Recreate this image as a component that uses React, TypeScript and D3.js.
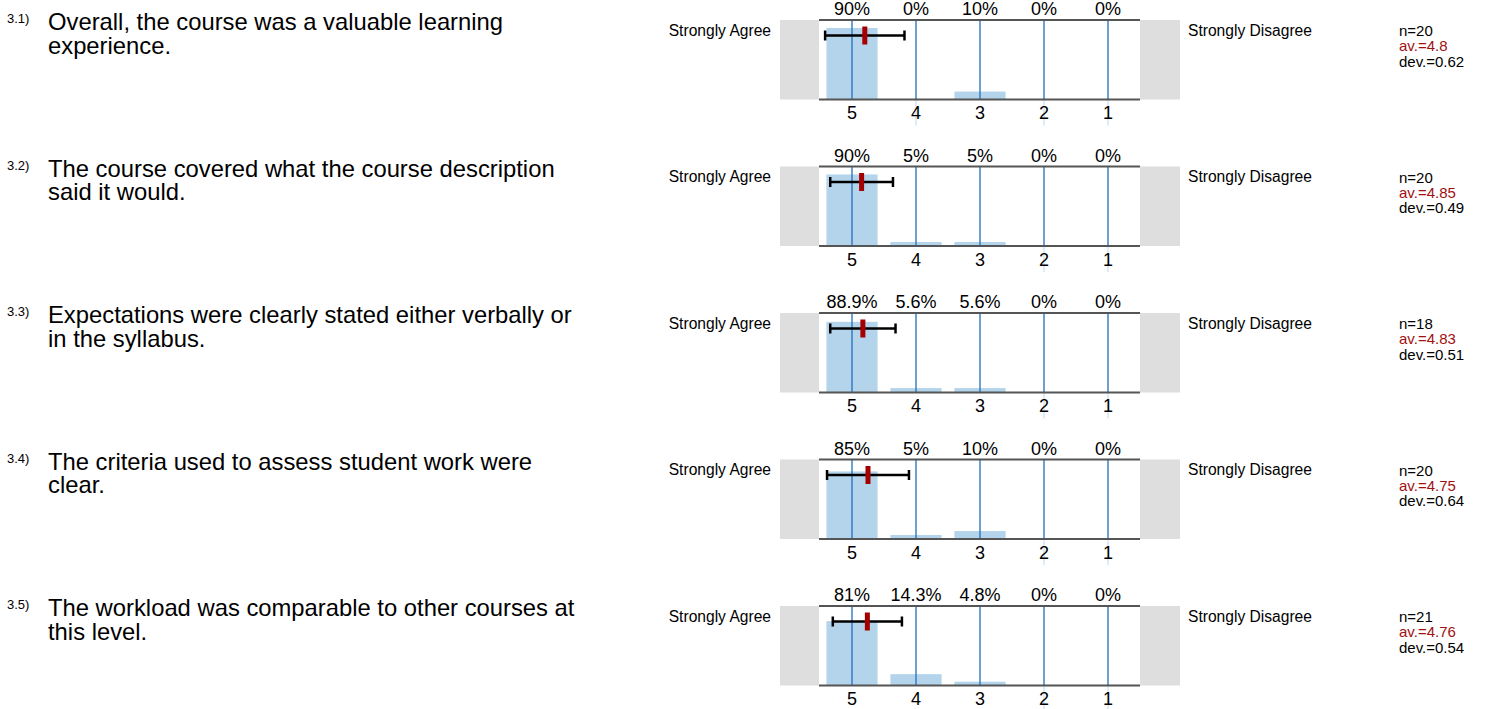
import { useRef, useEffect } from "react";
import * as d3 from "d3";

const questionIds = ["3.1)", "3.2)", "3.3)", "3.4)", "3.5)"];
const questionLines = [
    ["Overall, the course was a valuable learning", "experience."],
    ["The course covered what the course description", "said it would."],
    ["Expectations were clearly stated either verbally or", "in the syllabus."],
    ["The criteria used to assess student work were", "clear."],
    ["The workload was comparable to other courses at", "this level."],
];
const scaleValues = [5, 4, 3, 2, 1];
const percents = [
    [90, 0, 10, 0, 0],
    [90, 5, 5, 0, 0],
    [88.9, 5.6, 5.6, 0, 0],
    [85, 5, 10, 0, 0],
    [81, 14.3, 4.8, 0, 0],
];
const counts = [20, 20, 18, 20, 21];
const averages = [4.8, 4.85, 4.83, 4.75, 4.76];
const deviations = [0.62, 0.49, 0.51, 0.64, 0.54];
const leftLabel = "Strongly Agree";
const rightLabel = "Strongly Disagree";

const WIDTH = 1489;
const HEIGHT = 709;
const FONT = "'Liberation Sans', Arial, Helvetica, sans-serif";

export default function App() {
    const svgRef = useRef<SVGSVGElement | null>(null);

    useEffect(() => {
        if (!svgRef.current) return;
        const svg = d3.select(svgRef.current);
        svg.selectAll("*").remove();

        const firstTop = 20;
        const rowStep = 146.5;
        const plotH = 79.5;

        const x = d3
            .scaleBand<number>()
            .domain(scaleValues)
            .range([820, 1140])
            .paddingInner(0.2)
            .paddingOuter(0.1);
        const xMean = d3.scaleLinear().domain([5, 1]).range([852, 1108]);
        const y = d3.scaleLinear().domain([0, 100]).range([plotH, 0]);

        percents.forEach((row, i) => {
            const top = firstTop + i * rowStep;
            const g = svg.append("g").attr("transform", `translate(0,${top})`);

            // question number + wrapped text (one text element, two lines)
            g.append("text")
                .attr("x", 7)
                .attr("y", 3)
                .attr("font-size", 13)
                .text(questionIds[i]);
            const qt = g.append("text")
                .attr("x", 48)
                .attr("y", 10)
                .attr("font-size", 23.8);
            questionLines[i].forEach((line, j) => {
                qt.append("tspan")
                    .attr("x", 48)
                    .attr("dy", j === 0 ? 0 : 23.5)
                    .text(line);
            });

            // grey end boxes
            g.append("rect").attr("x", 780).attr("y", 0).attr("width", 39).attr("height", plotH).attr("fill", "#dedede");
            g.append("rect").attr("x", 1140).attr("y", 0).attr("width", 40).attr("height", plotH).attr("fill", "#dedede");

            // bars
            g.selectAll("rect.bar")
                .data(row)
                .enter()
                .append("rect")
                .attr("class", "bar")
                .attr("x", (_d, k) => x(scaleValues[k])!)
                .attr("y", d => y(d))
                .attr("width", x.bandwidth())
                .attr("height", d => plotH - y(d))
                .attr("fill", "#b4d4eb");

            // faint extensions under empty columns
            const empty = scaleValues.filter((_v, k) => row[k] === 0);
            g.selectAll("line.ext")
                .data(empty)
                .enter()
                .append("line")
                .attr("x1", d => xMean(d))
                .attr("x2", d => xMean(d))
                .attr("y1", plotH)
                .attr("y2", plotH + 26)
                .attr("stroke", "#d3e6f5")
                .attr("stroke-width", 1.5);

            // blue column lines
            g.selectAll("line.col")
                .data(scaleValues)
                .enter()
                .append("line")
                .attr("x1", d => xMean(d))
                .attr("x2", d => xMean(d))
                .attr("y1", 0)
                .attr("y2", plotH)
                .attr("stroke", "#1f6fb9")
                .attr("stroke-width", 1.3);

            // frame lines
            g.append("line").attr("x1", 819).attr("x2", 1140).attr("y1", 0).attr("y2", 0).attr("stroke", "#555").attr("stroke-width", 2);
            g.append("line").attr("x1", 819).attr("x2", 1140).attr("y1", plotH).attr("y2", plotH).attr("stroke", "#555").attr("stroke-width", 2);

            // percent labels
            g.selectAll("text.pct")
                .data(row)
                .enter()
                .append("text")
                .attr("x", (_d, k) => xMean(scaleValues[k]))
                .attr("y", -5)
                .attr("text-anchor", "middle")
                .attr("font-size", 18)
                .text(d => `${d}%`);

            // scale labels
            g.selectAll("text.tick")
                .data(scaleValues)
                .enter()
                .append("text")
                .attr("x", d => xMean(d))
                .attr("y", plotH + 19.5)
                .attr("text-anchor", "middle")
                .attr("font-size", 18)
                .text(d => d);

            // error bar
            const ey = 15.5;
            const lo = xMean(averages[i] + deviations[i]);
            const hi = xMean(averages[i] - deviations[i]);
            g.append("line").attr("x1", lo).attr("x2", hi).attr("y1", ey).attr("y2", ey).attr("stroke", "#000").attr("stroke-width", 2.5);
            [lo, hi].forEach(cx => {
                g.append("line").attr("x1", cx).attr("x2", cx).attr("y1", ey - 5).attr("y2", ey + 5).attr("stroke", "#000").attr("stroke-width", 2.5);
            });
            g.append("rect")
                .attr("x", xMean(averages[i]) - 2.5)
                .attr("y", ey - 9)
                .attr("width", 5)
                .attr("height", 18)
                .attr("fill", "#a50000");

            // side labels
            g.append("text").attr("x", 771).attr("y", 15.5).attr("text-anchor", "end").attr("font-size", 15.6).text(leftLabel);
            g.append("text").attr("x", 1188).attr("y", 15.5).attr("font-size", 15.6).text(rightLabel);

            // stats
            g.append("text").attr("x", 1399).attr("y", 16).attr("font-size", 15).text(`n=${counts[i]}`);
            g.append("text").attr("x", 1399).attr("y", 31.3).attr("font-size", 15).attr("fill", "#a01010").text(`av.=${averages[i]}`);
            g.append("text").attr("x", 1399).attr("y", 46.6).attr("font-size", 15).text(`dev.=${deviations[i]}`);
        });
    }, []);

    return (
        <svg
            ref={svgRef}
            width={WIDTH}
            height={HEIGHT}
            style={{ position: "absolute", left: 0, top: 0, fontFamily: FONT, background: "#fff" }}
        />
    );
}
